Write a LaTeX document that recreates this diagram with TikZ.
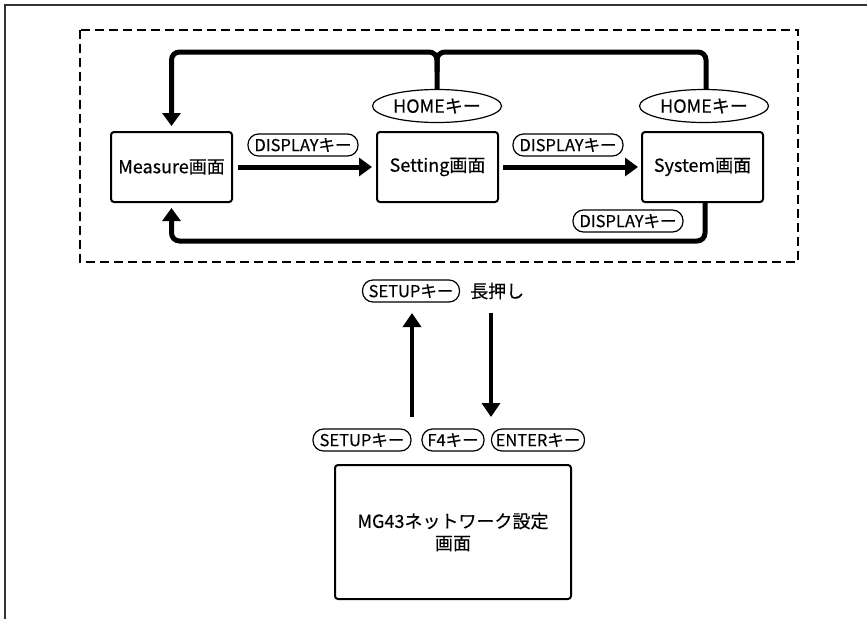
\documentclass[tikz,border=0pt]{standalone}
\usepackage{fontspec}
\setmainfont{Noto Sans CJK JP}[FakeBold=0.35]
\usetikzlibrary{arrows.meta,shapes.geometric}
\newcommand\fsmain{\fontsize{18}{22}\selectfont}
\newcommand\fspill{\fontsize{16.5}{19}\selectfont}
\begin{document}
\begin{tikzpicture}[x=1pt,y=-1pt,
  screen/.style={draw, line width=2pt, rounded corners=3pt, minimum width=121pt, minimum height=70pt, inner sep=0pt, font=\fsmain, align=center},
  pill/.style={draw, line width=1.2pt, rounded corners=10.5pt, minimum height=22pt, inner xsep=3pt, inner ysep=0pt, font=\fspill},
  homekey/.style={draw, ellipse, line width=1.2pt, minimum width=129pt, minimum height=33pt, inner sep=0pt, font=\fsmain},
  thick arrow/.style={line width=5pt, -{Triangle[width=18pt,length=13pt]}},
  loopline/.style={line width=5pt, rounded corners=8pt},
  setup arrow/.style={line width=4.5pt, -{Triangle[width=18pt,length=14pt]}},
  frame/.style={line width=1.5pt, draw=black!80},
  dashbox/.style={line width=1.8pt, dash pattern=on 9pt off 5pt}]
\useasboundingbox (0,0) rectangle (867,619);
% outer frame (top and left)
\draw[frame] (867,5) -- (5,5) -- (5,619);
% dashed group
\draw[dashbox] (80,30) rectangle (798,262);
% screens
\node[screen] (measure) at (171.5,167) {Measure画面};
\node[screen] (setting) at (437.5,167) {Setting画面};
\node[screen] (system) at (702.5,167) {System画面};
\node[screen, minimum width=236pt, minimum height=134pt] (mg43) at (453,532) {MG43ネットワーク設定\\画面};
% keys
\node[homekey] (home1) at (437,106) {HOMEキー};
\node[homekey] (home2) at (704,106) {HOMEキー};
\node[pill, minimum width=110pt] (disp1) at (303,145) {DISPLAYキー};
\node[pill, minimum width=110pt] (disp2) at (568,145) {DISPLAYキー};
\node[pill, minimum width=110pt] (disp3) at (628,221) {DISPLAYキー};
\node[pill, minimum width=97pt] (setupT) at (411,291) {SETUPキー};
\node[font=\fsmain, anchor=west, inner sep=0pt] (long) at (470,291) {長押し};
\node[pill, minimum width=98pt] (setupB) at (362,440) {SETUPキー};
\node[pill, minimum width=62pt] (f4) at (453,440) {F4キー};
\node[pill, minimum width=93pt] (enter) at (538,440) {ENTERキー};
% horizontal arrows
\draw[thick arrow, shorten <=5pt, shorten >=4pt] (measure.east) -- (setting.west);
\draw[thick arrow, shorten <=4pt, shorten >=3pt] (setting.east) -- (system.west);
% top loop (HOME)
\coordinate (tj) at (437,52);
\coordinate (tr) at (706,52);
\draw[loopline, -{Triangle[width=18pt,length=13pt]}, shorten >=5pt] (home1.north) -- (tj) -| (measure.north);
\draw[loopline] (home2.north -| tr) -- (tr) -- (tj) -- ++(0,20);
% bottom loop (DISPLAY from System)
\coordinate (br) at (705,241);
\draw[loopline, -{Triangle[width=18pt,length=13pt]}, shorten >=5pt] (system.south -| br) -- (br) -| (measure.south);
% setup arrows
\coordinate (ua0) at (412,417);
\coordinate (ua1) at (412,313);
\coordinate (da0) at (491,313);
\coordinate (da1) at (491,417);
\draw[setup arrow] (ua0) -- (ua1);
\draw[setup arrow] (da0) -- (da1);
\end{tikzpicture}
\end{document}
